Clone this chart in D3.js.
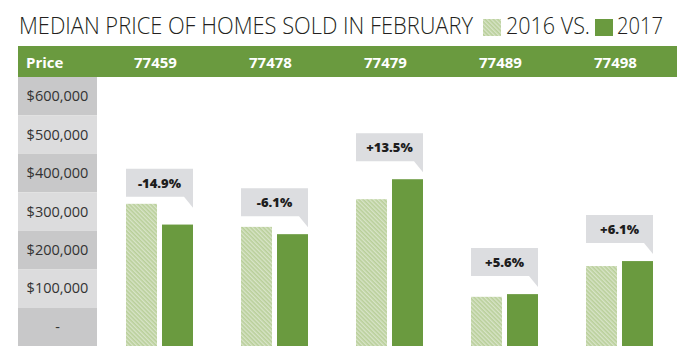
<!DOCTYPE html>
<html>
<head>
  <meta charset="utf-8">
  <style>
    body { margin: 0; background: #fff; }
    text { font-family: "Open Sans", "DejaVu Sans", sans-serif; }
  </style>
</head>
<body>
  <svg id="chart" width="700" height="352"></svg>
  <script src="https://cdn.jsdelivr.net/npm/d3@7"></script>
  <script>
    // data
    var zips = ["77459", "77478", "77479", "77489", "77498"];
    var price2016 = [370000, 310000, 382000, 128000, 208000];
    var price2017 = [316000, 291000, 434000, 135000, 221000];
    var changes = ["-14.9%", "-6.1%", "+13.5%", "+5.6%", "+6.1%"];
    var rowLabels = ["$600,000", "$500,000", "$400,000", "$300,000", "$200,000", "$100,000", "-"];

    var green = "#6a9a3f",
      calloutFill = "#dcdde0";

    var svg = d3.select("#chart");

    // hatch for 2016
    var defs = svg.append("defs");
    var pat = defs.append("pattern")
      .attr("id", "hatch")
      .attr("patternUnits", "userSpaceOnUse")
      .attr("width", 3).attr("height", 3)
      .attr("patternTransform", "rotate(-45)");
    pat.append("rect").attr("width", 3).attr("height", 3).attr("fill", "#b9cf99");
    pat.append("rect").attr("width", 1.4).attr("height", 3).attr("fill", "#d8e4c8");

    // title + legend
    svg.append("text").attr("x", 19).attr("y", 34)
      .attr("textLength", 454).attr("lengthAdjust", "spacingAndGlyphs")
      .style("font-size", "23px").style("font-weight", 300).attr("fill", "#231f20")
      .text("MEDIAN PRICE OF HOMES SOLD IN FEBRUARY");
    svg.append("rect").attr("x", 483).attr("y", 19).attr("width", 18).attr("height", 17).attr("fill", "url(#hatch)");
    svg.append("text").attr("x", 506).attr("y", 34)
      .attr("textLength", 84).attr("lengthAdjust", "spacingAndGlyphs")
      .style("font-size", "23px").style("font-weight", 300).attr("fill", "#231f20")
      .text("2016 VS.");
    svg.append("rect").attr("x", 595).attr("y", 19).attr("width", 18).attr("height", 17).attr("fill", green);
    svg.append("text").attr("x", 617).attr("y", 34)
      .attr("textLength", 46).attr("lengthAdjust", "spacingAndGlyphs")
      .style("font-size", "23px").style("font-weight", 300).attr("fill", "#231f20")
      .text("2017");

    // scales
    var x = d3.scaleBand().domain(zips).range([102, 677]);
    var y = d3.scaleLinear().domain([0, 700000]).range([346, 77]);
    var rows = d3.scaleBand().domain(rowLabels).range([77, 346]);

    // header band
    svg.append("rect").attr("x", 18).attr("y", 46).attr("width", 659).attr("height", 31).attr("fill", green);
    svg.append("text").attr("x", 26).attr("y", 68)
      .style("font-size", "15px").style("font-weight", 700).attr("fill", "#fff")
      .text("Price");
    svg.selectAll(".zip").data(zips).enter().append("text")
      .attr("class", "zip")
      .attr("x", function (d) { return x(d) + x.bandwidth() / 2 - 4; })
      .attr("y", 68)
      .attr("text-anchor", "middle")
      .style("font-size", "15px").style("font-weight", 700).attr("fill", "#fff")
      .text(function (d) { return d; });

    // price column
    svg.selectAll(".row").data(rowLabels).enter().append("rect")
      .attr("class", "row")
      .attr("x", 18).attr("width", 79)
      .attr("y", function (d) { return rows(d); })
      .attr("height", rows.bandwidth())
      .attr("fill", function (d, i) { return i % 2 ? "#dcdcdd" : "#c8c8c9"; });
    svg.selectAll(".rowlab").data(rowLabels).enter().append("text")
      .attr("class", "rowlab")
      .attr("x", 57.5)
      .attr("y", function (d) { return rows(d) + rows.bandwidth() / 2 + 5; })
      .attr("text-anchor", "middle")
      .style("font-size", "14.5px").attr("fill", "#333")
      .text(function (d) { return d; });

    // bars
    var groups = svg.selectAll(".grp").data(zips).enter().append("g")
      .attr("class", "grp")
      .attr("transform", function (d) { return "translate(" + (x(d) + x.bandwidth() / 2) + ",0)"; });

    groups.append("rect")
      .attr("x", -33.5).attr("width", 31)
      .attr("y", function (d, i) { return y(price2016[i]); })
      .attr("height", function (d, i) { return y(0) - y(price2016[i]); })
      .attr("fill", "url(#hatch)");
    groups.append("rect")
      .attr("x", 2.5).attr("width", 31)
      .attr("y", function (d, i) { return y(price2017[i]); })
      .attr("height", function (d, i) { return y(0) - y(price2017[i]); })
      .attr("fill", green);

    // callouts
    groups.each(function (d, i) {
      var bottom = Math.min(y(price2017[i]) - 18, y(price2016[i]) - 7),
        top = bottom - 28,
        l = -33.5, r = 33.5;
      var path = d3.path();
      path.moveTo(l, top);
      path.lineTo(r, top);
      path.lineTo(r, bottom + 11);
      path.lineTo(r - 9, bottom);
      path.lineTo(l, bottom);
      path.closePath();
      var g = d3.select(this);
      g.append("path").attr("d", path.toString()).attr("fill", calloutFill);
      g.append("text")
        .attr("x", 0).attr("y", top + 19)
        .attr("text-anchor", "middle")
        .style("font-size", "13px").style("font-weight", 800).attr("fill", "#1e1e1e")
        .text(changes[i]);
    });
  </script>
</body>
</html>
